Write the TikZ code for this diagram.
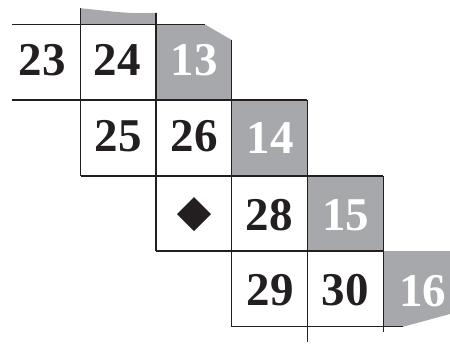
\documentclass[tikz,border=0pt]{standalone}
\usepackage{fontspec}
\setmainfont{Liberation Serif}
\definecolor{cellgray}{HTML}{A7A8AB}
\definecolor{ink}{HTML}{231F20}
\begin{document}
\begin{tikzpicture}[x=1pt,y=-1pt,
  gridline/.style={draw=ink,line width=1.3pt},
  graycell/.style={fill=cellgray},
  num/.style={inner sep=0pt,font=\fontsize{47}{47}\selectfont\bfseries,text=ink},
  wnum/.style={num,text=white}]
\useasboundingbox (0,0) rectangle (450,343);
% gray areas
\fill[graycell] (80.7,8.3) .. controls (110,11) and (130,14.5) .. (156,12.7) -- (156,24.5) -- (80.7,24.5) -- cycle;
\fill[graycell] (156,24.5) -- (205,24.5) -- (231.7,40) -- (231.7,100) -- (156,100) -- cycle;
\fill[graycell] (231.7,100) rectangle (307.3,176);
\fill[graycell] (307.3,176) rectangle (383.3,251);
\fill[graycell] (383.3,251) -- (450,251) -- (450,314) -- (403.3,326.7) -- (383.3,326.7) -- cycle;
% grid lines
\draw[gridline] (12,24.5) -- (205,24.5);
\draw[gridline] (12,100) -- (307.3,100);
\draw[gridline] (80.7,176) -- (383.3,176);
\draw[gridline] (156,251) -- (383.3,251);
\draw[gridline] (231.7,326.7) -- (403.3,326.7);
\draw[gridline] (80.7,8.3) -- (80.7,176);
\draw[gridline] (156,12.7) -- (156,251);
\draw[gridline] (231.7,40) -- (231.7,326.7);
\draw[gridline] (307.3,100) -- (307.3,342);
\draw[gridline] (383.3,176) -- (383.3,331.7);
% labels
\node[num] (n23) at (42,60) {23};
\node[num] (n24) at (117,60) {24};
\node[wnum] (n13) at (194,60) {13};
\node[num] (n25) at (118,136) {25};
\node[num] (n26) at (194,136) {26};
\node[wnum] (n14) at (270,138) {14};
\node[num] (n28) at (269,215) {28};
\node[wnum] (n15) at (345.5,215) {15};
\node[num] (n29) at (270,290) {29};
\node[num] (n30) at (345,290) {30};
\node[wnum] (n16) at (422.5,291) {16};
\fill[ink] (194,197) -- (211,214) -- (194,231) -- (177,214) -- cycle;
\end{tikzpicture}
\end{document}
